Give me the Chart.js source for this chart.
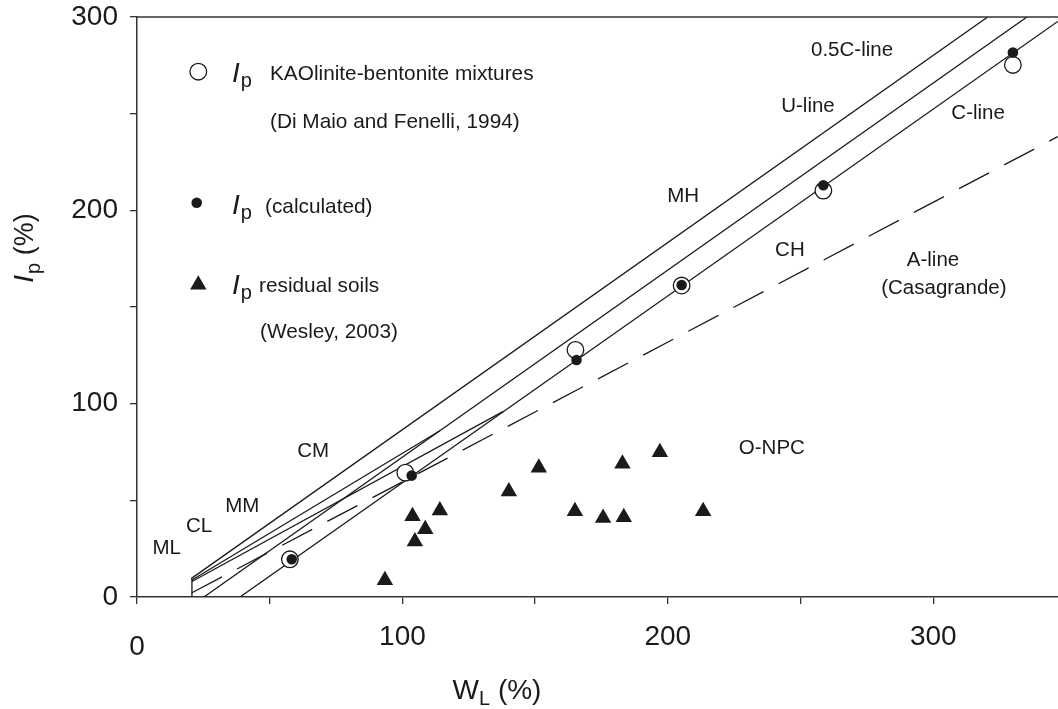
<!DOCTYPE html>
<html>
<head>
<meta charset="utf-8">
<title>Plasticity chart</title>
<script src="https://cdn.jsdelivr.net/npm/chart.js@4.4.1/dist/chart.umd.min.js"></script>
<style>
  html, body { margin: 0; padding: 0; background: #fff; }
  #wrap { width: 1058px; height: 709px; }
</style>
</head>
<body>
<div id="wrap"><canvas id="chart" width="1058" height="709"></canvas></div>
<script>
// ---- data (W_L %, I_p %) ----
// I_p, kaolinite-bentonite mixtures (Di Maio and Fenelli, 1994)
const kaoWL = [57.6, 101.1, 165.2, 205.2, 258.6, 330.0];
const kaoIp = [19.5, 64.3, 127.8, 161.1, 210.2, 275.2];

// I_p calculated
const calcWL = [58.3, 103.5, 165.6, 205.2, 258.6, 330.0];
const calcIp = [19.5, 62.8, 122.6, 161.4, 213.0, 281.6];

// I_p residual soils (Wesley, 2003)
const resWL = [93.4, 103.8, 104.7, 108.6, 114.1, 140.1, 151.4, 165.0, 175.6, 182.9, 183.4, 197.0, 213.3];
const resIp = [8.6, 41.8, 28.7, 35.0, 44.8, 54.6, 66.8, 44.4, 40.8, 68.9, 41.3, 74.9, 44.4];

// classification lines (end points)
const halfCLineWL = [20.4, 320.5];
const halfCLineIp = [9.5, 300];
const uLineWL = [25.2, 335.3];
const uLineIp = [0, 300];
const cLineWL = [38.8, 346.9];
const cLineIp = [0, 297.7];
const aLineWL = [20.7, 346.9];
const aLineIp = [2.2, 238.1];
const stemWL = [20.7, 20.7];
const stemIp = [0, 9.5];
const branch1WL = [20.7, 114.1];
const branch1Ip = [8.8, 86.0];
const branch2WL = [20.7, 138.0];
const branch2Ip = [8.0, 96.0];

// axes ("0" on the x axis sits a little lower in the figure, drawn by the plugin)
const xTickValues = [0, 50, 100, 150, 200, 250, 300];
const xTickText = ['', '', '100', '', '200', '', '300'];
const yTickValues = [0, 50, 100, 150, 200, 250, 300];
const yTickText = ['0', '', '100', '', '200', '', '300'];

// zone / line names inside the plot
const zoneLabels = [
    { text: 'ML', x: 11.2, y: 25.2 },
    { text: 'CL', x: 23.4, y: 36.4 },
    { text: 'MM', x: 39.7, y: 46.7 },
    { text: 'CM', x: 66.4, y: 75.2 },
    { text: 'MH', x: 205.8, y: 207.1 },
    { text: 'CH', x: 246.0, y: 179.5 },
    { text: 'O-NPC', x: 239.2, y: 77.1 },
    { text: 'A-line', x: 299.9, y: 174.3 },
    { text: '(Casagrande)', x: 304.0, y: 159.7 },
    { text: '0.5C-line', x: 269.4, y: 283.0 },
    { text: 'U-line', x: 252.8, y: 253.6 },
    { text: 'C-line', x: 316.9, y: 250.2 }
];

const FONT = "'Liberation Sans', Arial, Helvetica, sans-serif";
const INK = '#1a1a1a';

function pts(xs, ys) {
    return xs.map((x, i) => ({ x: x, y: ys[i] }));
}

function lineSet(label, xs, ys, dash) {
    return {
        label: label,
        data: pts(xs, ys),
        showLine: true,
        borderColor: INK,
        borderWidth: 1.3,
        borderDash: dash || [],
        pointRadius: 0,
        order: 5
    };
}

function fontStr(size, italic) {
    return (italic ? 'italic ' : '') + size + 'px ' + FONT;
}

// draw a run of text pieces (e.g. I + subscript p + text)
function drawRich(ctx, parts, x, y, align) {
    let total = 0;
    parts.forEach(p => {
        ctx.font = fontStr(p.size, p.italic);
        total += ctx.measureText(p.t).width + (p.gap || 0);
    });
    let cx = align === 'center' ? x - total / 2 : x;
    parts.forEach(p => {
        ctx.font = fontStr(p.size, p.italic);
        ctx.fillText(p.t, cx, y + (p.dy || 0));
        cx += ctx.measureText(p.t).width + (p.gap || 0);
    });
}

const decorPlugin = {
    id: 'decor',
    afterDraw(chart) {
        const ctx = chart.ctx;
        const area = chart.chartArea;
        const xs = chart.scales.x;
        const ys = chart.scales.y;
        ctx.save();

        // top frame line
        ctx.strokeStyle = '#333';
        ctx.lineWidth = 1.5;
        ctx.beginPath();
        ctx.moveTo(area.left, area.top);
        ctx.lineTo(area.right, area.top);
        ctx.stroke();

        ctx.fillStyle = INK;

        // x origin label
        ctx.font = fontStr(28, false);
        ctx.textAlign = 'center';
        ctx.textBaseline = 'middle';
        ctx.fillText('0', xs.getPixelForValue(0), area.bottom + 50);

        // labels inside the plot
        ctx.font = fontStr(20.5, false);
        zoneLabels.forEach(l => {
            ctx.fillText(l.text, xs.getPixelForValue(l.x), ys.getPixelForValue(l.y));
        });

        // legend
        ctx.textAlign = 'left';
        ctx.textBaseline = 'alphabetic';
        ctx.lineWidth = 1.3;
        ctx.strokeStyle = INK;

        ctx.beginPath();
        ctx.arc(198.3, 71.7, 8.3, 0, Math.PI * 2);
        ctx.fillStyle = '#fff';
        ctx.fill();
        ctx.stroke();
        ctx.fillStyle = INK;

        ctx.beginPath();
        ctx.arc(196.7, 202.7, 5.3, 0, Math.PI * 2);
        ctx.fill();

        const tr = 9.5, tx = 198.3, ty = 284.7;
        ctx.beginPath();
        ctx.moveTo(tx, ty - tr);
        ctx.lineTo(tx + tr * 0.866, ty + tr / 2);
        ctx.lineTo(tx - tr * 0.866, ty + tr / 2);
        ctx.closePath();
        ctx.fill();

        const ip = [
            { t: 'I', size: 28, italic: true, gap: 1 },
            { t: 'p', size: 20, dy: 5 }
        ];
        drawRich(ctx, ip, 232, 82, 'left');
        ctx.font = fontStr(20.8, false);
        ctx.fillText('KAOlinite-bentonite mixtures', 270, 80);
        ctx.fillText('(Di Maio and Fenelli, 1994)', 270, 128);

        drawRich(ctx, ip, 232, 214, 'left');
        ctx.font = fontStr(20.8, false);
        ctx.fillText('(calculated)', 265, 213);

        drawRich(ctx, ip, 232, 294, 'left');
        ctx.font = fontStr(20.8, false);
        ctx.fillText('residual soils', 259, 292);
        ctx.fillText('(Wesley, 2003)', 260, 338);

        // x axis title
        drawRich(ctx, [
            { t: 'W', size: 28 },
            { t: 'L', size: 20, dy: 6 },
            { t: ' (%)', size: 28 }
        ], 497, 699, 'center');

        // y axis title (rotated)
        ctx.translate(33, 248);
        ctx.rotate(-Math.PI / 2);
        drawRich(ctx, [
            { t: 'I', size: 28, italic: true, gap: 1 },
            { t: 'p', size: 20, dy: 7 },
            { t: ' (%)', size: 27 }
        ], 0, 0, 'center');

        ctx.restore();
    }
};

const tickFont = { family: FONT, size: 28 };

new Chart(document.getElementById('chart').getContext('2d'), {
    type: 'scatter',
    data: {
        datasets: [
            {
                label: 'Ip (calculated)',
                data: pts(calcWL, calcIp),
                pointStyle: 'circle',
                pointRadius: 5.3,
                backgroundColor: INK,
                borderColor: INK,
                borderWidth: 0,
                order: 0
            },
            {
                label: 'Ip KAOlinite-bentonite mixtures',
                data: pts(kaoWL, kaoIp),
                pointStyle: 'circle',
                pointRadius: 8.3,
                backgroundColor: '#fff',
                borderColor: INK,
                borderWidth: 1.3,
                order: 1
            },
            {
                label: 'Ip residual soils',
                data: pts(resWL, resIp),
                pointStyle: 'triangle',
                pointRadius: 9.5,
                backgroundColor: INK,
                borderColor: INK,
                borderWidth: 0,
                order: 2
            },
            lineSet('0.5C-line', halfCLineWL, halfCLineIp),
            lineSet('U-line', uLineWL, uLineIp),
            lineSet('C-line', cLineWL, cLineIp),
            lineSet('A-line (Casagrande)', aLineWL, aLineIp, [34, 17]),
            lineSet('stem', stemWL, stemIp),
            lineSet('branch 1', branch1WL, branch1Ip),
            lineSet('branch 2', branch2WL, branch2Ip)
        ]
    },
    options: {
        responsive: false,
        animation: false,
        events: [],
        layout: { autoPadding: false, padding: { top: 17, right: 0, bottom: 0, left: 0 } },
        plugins: {
            legend: { display: false },
            tooltip: { enabled: false }
        },
        scales: {
            x: {
                type: 'linear',
                position: 'bottom',
                min: 0,
                max: 347,
                afterBuildTicks: s => { s.ticks = xTickValues.map(v => ({ value: v })); },
                afterFit: s => {
                    s.height = 112;
                    s.paddingLeft = 0;
                    s.paddingRight = 0;
                },
                ticks: {
                    font: tickFont,
                    color: INK,
                    padding: 16,
                    maxRotation: 0,
                    autoSkip: false,
                    callback: v => xTickText[xTickValues.indexOf(v)] ?? ''
                },
                grid: { drawOnChartArea: false, tickLength: 7, color: '#333', lineWidth: 1.3 },
                border: { display: true, color: '#333', width: 1.5 }
            },
            y: {
                type: 'linear',
                position: 'left',
                min: 0,
                max: 300,
                afterBuildTicks: s => { s.ticks = yTickValues.map(v => ({ value: v })); },
                afterFit: s => {
                    s.width = 137;
                    s.paddingTop = 0;
                    s.paddingBottom = 0;
                },
                ticks: {
                    font: tickFont,
                    color: INK,
                    padding: 12,
                    autoSkip: false,
                    callback: v => yTickText[yTickValues.indexOf(v)] ?? ''
                },
                grid: { drawOnChartArea: false, tickLength: 7, color: '#333', lineWidth: 1.3 },
                border: { display: true, color: '#333', width: 1.5 }
            }
        }
    },
    plugins: [decorPlugin]
});
</script>
</body>
</html>
